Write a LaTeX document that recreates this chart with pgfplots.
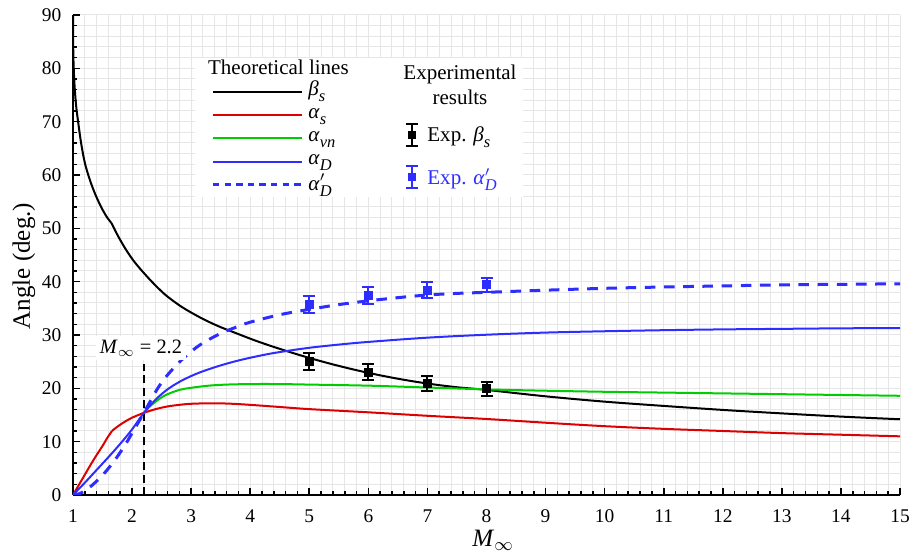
\documentclass[border=0pt]{standalone}
\usepackage{fontspec}
\setmainfont{Liberation Serif}
\usepackage{pgfplots}
\pgfplotsset{compat=1.18}
\definecolor{cred}{RGB}{220,0,0}
\definecolor{cgreen}{RGB}{0,205,0}
\definecolor{cblue}{RGB}{45,45,255}
\definecolor{gridgray}{RGB}{230,230,230}
\newcommand{\sub}[1]{\raisebox{-3pt}{\fontsize{8.2}{9}\selectfont\textit{#1}}}
\newcommand{\lfont}{\fontsize{10.5}{12}\selectfont}
\begin{document}
\begin{tikzpicture}
\begin{axis}[
  scale only axis, width=413.5pt, height=240pt,
  xmin=1, xmax=15, ymin=0, ymax=90,
  axis x line*=bottom, axis y line*=left,
  axis line style={-, line width=1.1pt},
  xtick={1,2,...,15}, ytick={0,10,...,90},
  minor x tick num=4, minor y tick num=4,
  tick align=inside,
  major tick length=3.5pt, minor tick length=2pt,
  every tick/.style={black, line width=0.8pt},
  grid=both,
  major grid style={draw=gridgray, line width=0.5pt},
  minor grid style={draw=gridgray, line width=0.5pt},
  tick label style={font=\fontsize{9.7}{11}\selectfont},
  xticklabel style={yshift=-3.8pt},
  yticklabel style={xshift=-2.3pt},
  /pgf/number format/assume math mode=true,
  xlabel={\textit{M}$_\infty$},
  ylabel={Angle (deg.)},
  every axis x label/.style={at={(axis description cs:0.508,-0.094)}, anchor=center, font=\fontsize{12.5}{14}\selectfont},
  every axis y label/.style={at={(axis description cs:-0.0593,0.477)}, rotate=90, anchor=center, font=\fontsize{12.5}{14}\selectfont},
]
\coordinate (sw) at (rel axis cs:0,0);
\coordinate (ne) at (rel axis cs:1,1);

% dashed marker line at M = 2.2
\draw[black, line width=0.8pt, dash pattern=on 4pt off 2.2pt] (axis cs:2.2,0) -- (axis cs:2.2,24.5);

% beta_s
\addplot[black, line width=1pt, smooth, tension=0.55] coordinates {
(1.0,90) (1.005,83) (1.02,78) (1.05,73.3) (1.09,69.7) (1.14,65.8) (1.20,62.3) (1.27,59.6) (1.34,57.4)
(1.42,55.3) (1.51,53.3) (1.58,52.0) (1.65,51.0)};
\addplot[black, line width=1pt, smooth, tension=0.55] coordinates {
(1.65,51.0) (1.70,49.9) (1.77,48.4) (1.88,46.3) (2.0,44.3)
(2.13,42.5) (2.3,40.4) (2.45,38.7) (2.6,37.2) (2.85,35.2) (3.15,33.3) (3.45,31.7) (3.77,30.3)
(4.1,28.9) (4.5,27.4) (5.0,25.7) (5.5,24.2) (6.0,22.9) (6.5,21.8) (7.0,20.9)
(7.5,20.2) (8.0,19.7) (9.0,18.5) (10.0,17.5) (11,16.7) (12,15.95) (13,15.3) (14,14.7) (15,14.2)};

% alpha_s
\addplot[cred, line width=1pt, smooth, tension=0.4] coordinates {
(1,0) (1.1,1.9) (1.2,3.8) (1.3,5.7) (1.4,7.5) (1.5,9.2) (1.58,10.7) (1.66,12.0)};
\addplot[cred, line width=1pt, smooth, tension=0.55] coordinates {
(1.66,12.0) (1.75,12.8)
(1.9,13.9) (2.0,14.5) (2.2,15.4) (2.4,16.1) (2.6,16.6) (2.8,16.9) (3.0,17.1) (3.37,17.2)
(3.7,17.1) (4.0,16.9) (4.5,16.5) (5,16.1) (6,15.5) (7,14.85) (8,14.25) (9,13.55) (10,12.9)
(11,12.4) (12,12.0) (13,11.6) (14,11.3) (15,11.0)};

% alpha_vn
\addplot[cgreen, line width=1pt, smooth, tension=0.55] coordinates {
(2.2,15.4) (2.3,16.6) (2.4,17.5) (2.5,18.3) (2.6,18.9) (2.8,19.7) (3.0,20.1) (3.3,20.5)
(3.6,20.7) (4.0,20.8) (4.5,20.8) (5,20.7) (6,20.5) (7,20.15) (8,19.8) (9,19.55) (10,19.35)
(11,19.2) (12,19.05) (13,18.9) (14,18.75) (15,18.6)};

% alpha_D
\addplot[cblue, line width=1pt, smooth, tension=0.55] coordinates {
(1,0) (1.2,2.3) (1.4,4.7) (1.6,7.1) (1.8,9.6) (2.0,12.3) (2.2,15.4) (2.4,17.9) (2.6,19.8)
(2.8,21.2) (3.0,22.3) (3.2,23.2) (3.5,24.3) (3.83,25.3) (4.2,26.2) (4.5,26.8) (5,27.6)
(5.5,28.2) (6,28.7) (7,29.5) (8,30.05) (9,30.45) (10,30.7) (11,30.9) (12,31.05) (13,31.15)
(14,31.25) (15,31.3)};

% alpha'_D
\addplot[cblue, line width=1.5pt, dash pattern=on 5.3pt off 4.3pt, smooth, tension=0.55] coordinates {
(1,0) (1.1,0.2) (1.2,0.8) (1.3,1.6) (1.4,2.6) (1.5,3.7) (1.6,5.0) (1.7,6.4) (1.8,8.0)
(1.9,9.7) (2.0,11.6) (2.1,13.5) (2.2,15.4) (2.3,17.4) (2.44,20.1) (2.6,22.5) (2.8,24.9)
(3.0,26.9) (3.2,28.5) (3.5,30.3) (3.77,31.5) (4.0,32.4) (4.5,33.8) (5.0,34.8) (5.5,35.7)
(6.0,36.4) (6.5,37.0) (7.0,37.5) (7.5,37.8) (8.0,38.0) (9,38.4) (10,38.75) (11,39.0)
(12,39.2) (13,39.4) (14,39.5) (15,39.6)};

% experimental beta_s
\addplot[black, only marks, mark=square*, mark size=2pt,
  error bars/.cd, y dir=both, y explicit,
  error bar style={line width=1pt, black},
  error mark options={rotate=90, mark size=3pt, line width=1pt, black}]
coordinates {(5,25.0) +- (0,1.6) (6,23.0) +- (0,1.5) (7,20.9) +- (0,1.35) (8,19.9) +- (0,1.25)};

% experimental alpha'_D
\addplot[cblue, only marks, mark=square*, mark size=2pt,
  error bars/.cd, y dir=both, y explicit,
  error bar style={line width=1pt, cblue},
  error mark options={rotate=90, mark size=3pt, line width=1pt, cblue}]
coordinates {(5,35.8) +- (0,1.6) (6,37.4) +- (0,1.55) (7,38.4) +- (0,1.5) (8,39.4) +- (0,1.3)};

% annotation
\node[fill=white, inner sep=2pt, anchor=base, font=\fontsize{10.2}{12}\selectfont] at (axis cs:2.151,26.6) {\textit{M}$_\infty$ = 2.2};

% legend box
\fill[white] (axis cs:3.065,55.9) rectangle (axis cs:8.62,81.9);
\node[anchor=base, font=\lfont, inner sep=0] at (axis cs:4.477,78.75) {Theoretical lines};
\draw[black, line width=1pt] (axis cs:3.37,75.62) -- (axis cs:4.877,75.62);
\draw[cred, line width=1pt] (axis cs:3.37,71.25) -- (axis cs:4.877,71.25);
\draw[cgreen, line width=1pt] (axis cs:3.37,66.88) -- (axis cs:4.877,66.88);
\draw[cblue, line width=1pt] (axis cs:3.37,62.50) -- (axis cs:4.877,62.50);
\draw[cblue, line width=1.5pt, dash pattern=on 3.2pt off 2.6pt] (axis cs:3.37,58.13) -- (axis cs:4.877,58.13);
\node[anchor=base west, font=\lfont, inner sep=0] at (axis cs:4.978,74.9) {\textit{β}\sub{s}};
\node[anchor=base west, font=\lfont, inner sep=0] at (axis cs:4.978,70.55) {\textit{α}\sub{s}};
\node[anchor=base west, font=\lfont, inner sep=0] at (axis cs:4.978,66.2) {\textit{α}\sub{vn}};
\node[anchor=base west, font=\lfont, inner sep=0] at (axis cs:4.978,62.0) {\textit{α}\sub{D}};
\node[anchor=base west, font=\lfont, inner sep=0] at (axis cs:4.978,57.1) {\textit{α}\rlap{\raisebox{0.3pt}{$'$}}\sub{D}};

\node[anchor=base, font=\lfont, inner sep=0] at (axis cs:7.551,77.94) {Experimental};
\node[anchor=base, font=\lfont, inner sep=0] at (axis cs:7.551,73.13) {results};
\draw[black, line width=1pt] ([yshift=-5.5pt]axis cs:6.734,67.5) -- ([yshift=5.5pt]axis cs:6.734,67.5);
\draw[black, line width=1pt] ([xshift=-3pt,yshift=-5.5pt]axis cs:6.734,67.5) -- ([xshift=3pt,yshift=-5.5pt]axis cs:6.734,67.5);
\draw[black, line width=1pt] ([xshift=-3pt,yshift=5.5pt]axis cs:6.734,67.5) -- ([xshift=3pt,yshift=5.5pt]axis cs:6.734,67.5);
\fill[black] ([xshift=-2pt,yshift=-2pt]axis cs:6.734,67.5) rectangle ([xshift=2pt,yshift=2pt]axis cs:6.734,67.5);
\draw[cblue, line width=1pt] ([yshift=-5.5pt]axis cs:6.734,59.7) -- ([yshift=5.5pt]axis cs:6.734,59.7);
\draw[cblue, line width=1pt] ([xshift=-3pt,yshift=-5.5pt]axis cs:6.734,59.7) -- ([xshift=3pt,yshift=-5.5pt]axis cs:6.734,59.7);
\draw[cblue, line width=1pt] ([xshift=-3pt,yshift=5.5pt]axis cs:6.734,59.7) -- ([xshift=3pt,yshift=5.5pt]axis cs:6.734,59.7);
\fill[cblue] ([xshift=-2pt,yshift=-2pt]axis cs:6.734,59.7) rectangle ([xshift=2pt,yshift=2pt]axis cs:6.734,59.7);
\node[anchor=base west, font=\lfont, inner sep=0] at (axis cs:6.993,66.25) {Exp. \textit{β}\sub{s}};
\node[anchor=base west, font=\lfont, inner sep=0, text=cblue] at (axis cs:6.993,58.13) {Exp. \textit{α}\rlap{\raisebox{0.3pt}{$'$}}\sub{D}};
\end{axis}
\pgfresetboundingbox
\path[use as bounding box] ([shift={(-36.5pt,-29pt)}]sw) rectangle ([shift={(5pt,7.5pt)}]ne);
\end{tikzpicture}
\end{document}
